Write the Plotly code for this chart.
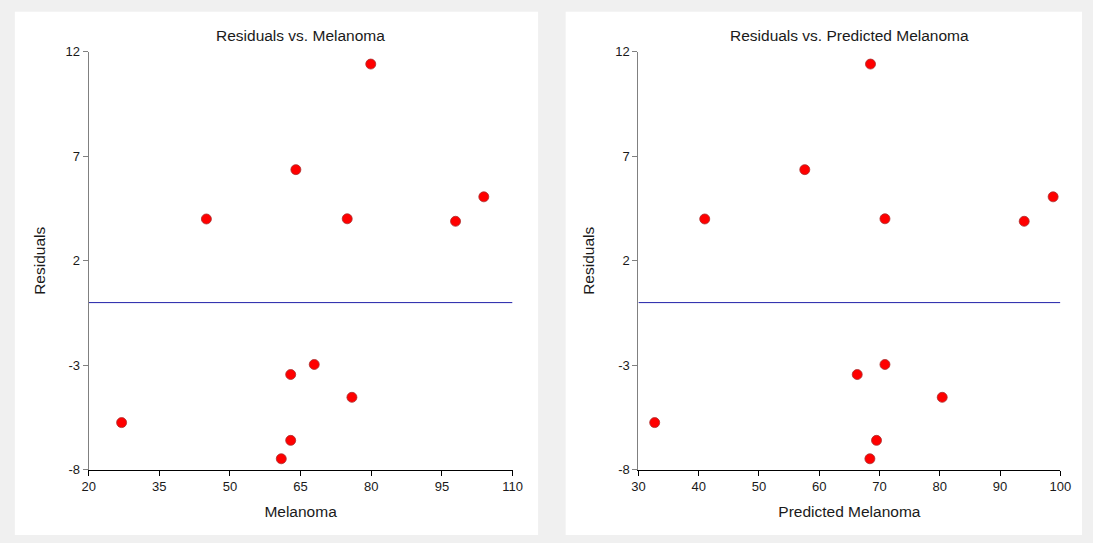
import plotly.graph_objects as go

# Observed melanoma values, model predictions and residuals
melanoma = [79.9, 64.0, 45.0, 74.9, 97.9, 103.9, 27.0, 62.9, 67.9, 75.9, 62.9, 60.9]
predicted = [68.5, 57.6, 41.0, 70.9, 94.0, 98.8, 32.7, 66.3, 70.9, 80.4, 69.5, 68.4]
residuals = [11.41, 6.36, 4.0, 4.01, 3.89, 5.06, -5.74, -3.44, -2.96, -4.53, -6.59, -7.47]

y_ticks = [-8, -3, 2, 7, 12]
y_ticktext = ["-8", "-3", "2", "7", "12"]
x1_ticks = [20, 35, 50, 65, 80, 95, 110]
x2_ticks = [30, 40, 50, 60, 70, 80, 90, 100]

W, H = 1093, 543
FONT = "Liberation Sans, Arial, sans-serif"

def px(x):
    return x / W

def py(y):
    return 1 - y / H

fig = go.Figure()

marker = dict(size=10, color="#ff0000", line=dict(color="#a83030", width=0.8))
zero_line = dict(color="#2020a8", width=1)

# Left panel: residuals against observed melanoma
fig.add_trace(go.Scatter(x=[x1_ticks[0], x1_ticks[-1]], y=[0, 0], mode="lines",
                         line=zero_line, xaxis="x", yaxis="y", hoverinfo="skip"))
fig.add_trace(go.Scatter(x=melanoma, y=residuals, mode="markers", marker=marker,
                         xaxis="x", yaxis="y"))

# Right panel: residuals against predicted melanoma
fig.add_trace(go.Scatter(x=[x2_ticks[0], x2_ticks[-1]], y=[0, 0], mode="lines",
                         line=zero_line, xaxis="x2", yaxis="y2", hoverinfo="skip"))
fig.add_trace(go.Scatter(x=predicted, y=residuals, mode="markers", marker=marker,
                         xaxis="x2", yaxis="y2"))

y_dom = [py(476), py(46)]
x1_dom = [px(83), px(514)]
x2_dom = [px(642), px(1071)]

tickfont = dict(family=FONT, size=13, color="#1a1a1a")
titlefont = dict(family=FONT, size=15.5, color="#1a1a1a")

def xaxis(dom, ticks, title, anchor):
    return dict(domain=dom, range=[ticks[0], ticks[-1]], tickvals=ticks,
                showgrid=False, zeroline=False, showline=True, linecolor="#000000",
                linewidth=1, ticks="outside", ticklen=5, tickcolor="#000000",
                tickfont=tickfont, anchor=anchor,
                title=dict(text=title, font=titlefont, standoff=12))

def yaxis(anchor):
    return dict(domain=y_dom, range=[y_ticks[0], y_ticks[-1]], tickvals=y_ticks,
                ticktext=y_ticktext,
                showgrid=False, zeroline=False, showline=True, linecolor="#808080",
                linewidth=1, ticks="outside", ticklen=5, tickcolor="#808080",
                tickfont=tickfont, anchor=anchor,
                title=dict(text="Residuals", font=titlefont, standoff=16))

fig.update_layout(
    width=W, height=H,
    margin=dict(l=0, r=0, t=0, b=0),
    paper_bgcolor="#f0f0f0",
    plot_bgcolor="rgba(0,0,0,0)",
    showlegend=False,
    xaxis=xaxis(x1_dom, x1_ticks, "Melanoma", "y"),
    yaxis=yaxis("x"),
    xaxis2=xaxis(x2_dom, x2_ticks, "Predicted Melanoma", "y2"),
    yaxis2=yaxis("x2"),
    shapes=[
        dict(type="rect", xref="paper", yref="paper", x0=px(8), x1=px(540),
             y0=0, y1=py(5), fillcolor="#ffffff", line=dict(width=0), layer="below"),
        dict(type="rect", xref="paper", yref="paper", x0=px(568), x1=1,
             y0=0, y1=py(5), fillcolor="#ffffff", line=dict(width=0), layer="below"),
    ],
    annotations=[
        dict(text="Residuals vs. Melanoma", xref="paper", yref="paper",
             x=(x1_dom[0] + x1_dom[1]) / 2, y=py(29), xanchor="center",
             yanchor="middle", showarrow=False, font=titlefont),
        dict(text="Residuals vs. Predicted Melanoma", xref="paper", yref="paper",
             x=(x2_dom[0] + x2_dom[1]) / 2, y=py(29), xanchor="center",
             yanchor="middle", showarrow=False, font=titlefont),
    ],
)

fig.write_html("out.html")
